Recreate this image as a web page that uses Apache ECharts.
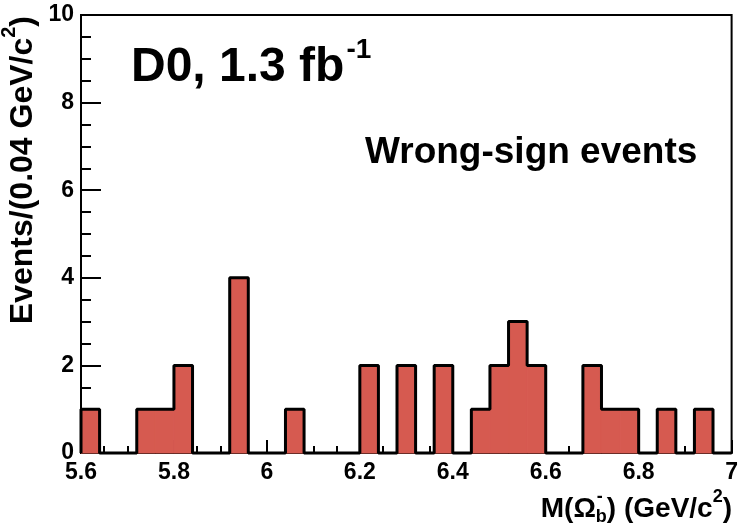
<!DOCTYPE html>
<html>
<head>
<meta charset="utf-8">
<script src="https://cdn.jsdelivr.net/npm/echarts@6/dist/echarts.min.js"></script>
<style>
  html, body { margin: 0; padding: 0; background: #ffffff; }
  #chart { width: 741px; height: 529px; }
</style>
</head>
<body>
<div id="chart"></div>
<script>
// Wrong-sign Omega_b candidates, 0.04 GeV/c^2 bins from 5.6 to 7.0 GeV/c^2
const binLow = [5.60, 5.64, 5.68, 5.72, 5.76, 5.80, 5.84, 5.88, 5.92, 5.96,
                6.00, 6.04, 6.08, 6.12, 6.16, 6.20, 6.24, 6.28, 6.32, 6.36,
                6.40, 6.44, 6.48, 6.52, 6.56, 6.60, 6.64, 6.68, 6.72, 6.76,
                6.80, 6.84, 6.88, 6.92, 6.96];
const binWidth = 0.04;
const counts = [1, 0, 0, 1, 1, 2, 0, 0, 4, 0,
                0, 1, 0, 0, 0, 2, 0, 2, 0, 2,
                0, 1, 2, 3, 2, 0, 0, 2, 1, 1,
                0, 1, 0, 1, 0];
const xRange = [5.6, 7.0];
const yRange = [0, 10];
const xStep = 0.2;
const yStep = 2;

const FONT = "'Liberation Sans', Arial, Helvetica, sans-serif";
const FILL = '#d65a50';
const INK = '#000000';

// bar rectangles: [low edge, high edge, count]
const rects = binLow.map((x, i) => [x, x + binWidth, counts[i]]);

// step outline traced over the histogram, closed down to zero at both ends
const xEnd = binLow[binLow.length - 1] + binWidth;
const outline = [[binLow[0], 0]]
  .concat(binLow.map((x, i) => [x, counts[i]]))
  .concat([[xEnd, counts[counts.length - 1]], [xEnd, 0]]);

// text layout helper
const measureCtx = document.createElement('canvas').getContext('2d');
function textWidth(str, size) {
  measureCtx.font = 'bold ' + size + 'px ' + FONT;
  return measureCtx.measureText(str).width;
}
function txt(str, x, y, size, align) {
  return {
    type: 'text', x: x, y: y, silent: true,
    style: { text: str, fill: INK, font: 'bold ' + size + 'px ' + FONT,
             align: align || 'left', verticalAlign: 'middle' }
  };
}

// x-axis title: M(Omega_b^-) (GeV/c^2), right aligned at xRight
function xTitle(xRight, yMid) {
  const s = 28, ss = 18;
  const parts = [
    ['M(\u03A9', s, 0, 'main'],
    ['b', ss, 0.30 * s, 'sub'],
    [') (GeV/c', s, 0, 'main'],
    ['2', ss, -0.42 * s, 'main'],
    [')', s, 0, 'main']
  ];
  let total = 0;
  const widths = parts.map(p => textWidth(p[0], p[1]));
  widths.forEach(w => total += w);
  let x = xRight - total;
  const children = [];
  parts.forEach((p, i) => {
    children.push(txt(p[0], x, yMid + p[2], p[1]));
    if (p[3] === 'sub') {
      children.push(txt('-', x + 1, yMid - 0.42 * s, ss));
    }
    x += widths[i];
  });
  return { type: 'group', children: children };
}

// y-axis title, rotated: Events/(0.04 GeV/c^2), top end at (cx, yTop)
function yTitle(cx, yTop) {
  const s = 32, ss = 20;
  const parts = [
    ['Events/(0.04 GeV/c', s, 0],
    ['2', ss, -0.42 * s],
    [')', s, 0]
  ];
  const widths = parts.map(p => textWidth(p[0], p[1]));
  let total = 0;
  widths.forEach(w => total += w);
  let x = -total;
  const children = [];
  parts.forEach((p, i) => {
    children.push(txt(p[0], x, p[2], p[1]));
    x += widths[i];
  });
  return { type: 'group', x: cx, y: yTop, rotation: Math.PI / 2, children: children };
}

// luminosity label: D0, 1.3 fb^-1
function lumiLabel(xLeft, yMid) {
  const s = 48, ss = 28;
  const main = 'D0, 1.3 fb';
  const w = textWidth(main, s);
  return {
    type: 'group',
    children: [
      txt(main, xLeft, yMid, s),
      txt('-1', xLeft + w + 2, yMid - 0.36 * s, ss)
    ]
  };
}

const chart = echarts.init(document.getElementById('chart'), null, { renderer: 'canvas' });

chart.setOption({
  animation: false,
  backgroundColor: '#ffffff',
  grid: {
    left: 81, top: 15, right: 8, bottom: 76,
    show: true, borderColor: INK, borderWidth: 2, backgroundColor: 'transparent'
  },
  xAxis: {
    type: 'value',
    min: xRange[0], max: xRange[1], interval: xStep,
    axisLine: { show: true, onZero: false, lineStyle: { color: INK, width: 2 } },
    axisTick: { show: true, inside: true, length: 13, lineStyle: { color: INK, width: 2 } },
    minorTick: { show: true, splitNumber: 4, length: 7, lineStyle: { color: INK, width: 2 } },
    splitLine: { show: false },
    axisLabel: {
      margin: 8, color: INK, fontFamily: FONT, fontWeight: 'bold', fontSize: 23,
      formatter: v => String(+(+v).toFixed(1))
    }
  },
  yAxis: {
    type: 'value',
    min: yRange[0], max: yRange[1], interval: yStep,
    axisLine: { show: true, lineStyle: { color: INK, width: 2 } },
    axisTick: { show: true, inside: true, length: 20, lineStyle: { color: INK, width: 2 } },
    minorTick: { show: true, splitNumber: 4, length: 10, lineStyle: { color: INK, width: 2 } },
    splitLine: { show: false },
    axisLabel: {
      margin: 7, color: INK, fontFamily: FONT, fontWeight: 'bold', fontSize: 23
    }
  },
  series: [
    {
      type: 'custom',
      data: rects,
      encode: { x: [0, 1], y: 2 },
      renderItem: function (params, api) {
        const v = api.value(2);
        if (!v) return null;
        const p0 = api.coord([api.value(0), v]);
        const p1 = api.coord([api.value(1), 0]);
        return {
          type: 'rect',
          shape: { x: p0[0], y: p0[1], width: p1[0] - p0[0], height: p1[1] - p0[1] },
          style: { fill: FILL, stroke: FILL, lineWidth: 1 }
        };
      },
      z: 2
    },
    {
      type: 'line',
      data: outline,
      step: 'end',
      showSymbol: false,
      symbol: 'none',
      clip: false,
      lineStyle: { color: INK, width: 3 },
      z: 3
    }
  ],
  graphic: [
    lumiLabel(131, 68),
    txt('Wrong-sign events', 365, 153, 37),
    xTitle(732, 509),
    yTitle(23, 16)
  ]
});
</script>
</body>
</html>
